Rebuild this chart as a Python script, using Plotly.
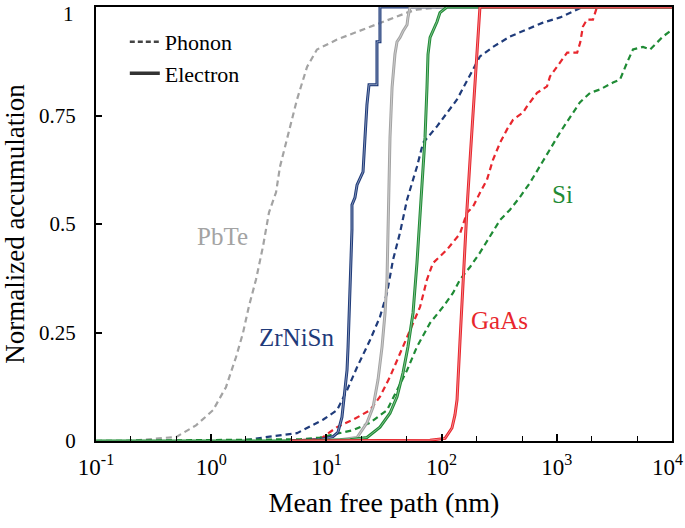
import plotly.graph_objects as go

# ---- data (log10 of mean free path in nm, normalized accumulation) ----
pbte_ph_lx = [-1.0, -0.705, -0.418, -0.306, -0.132, 0.016, 0.128, 0.215, 0.276, 0.328, 0.389, 0.450, 0.502,
              0.563, 0.597, 0.745, 0.832, 0.918, 1.092, 1.318, 1.465, 1.70, 1.786, 2.01, 4.0]
pbte_ph_y = [0.0, 0.0, 0.007, 0.009, 0.036, 0.071, 0.124, 0.193, 0.249, 0.311, 0.372, 0.449, 0.527,
             0.573, 0.632, 0.787, 0.862, 0.902, 0.925, 0.948, 0.964, 0.987, 0.994, 1.0, 1.0]

zr_ph_lx = [-1.0, 0.25, 0.45, 0.745, 0.97, 1.092, 1.179, 1.266, 1.378, 1.465, 1.526, 1.578, 1.639, 1.70,
            1.786, 1.839, 1.96, 2.134, 2.333, 2.446, 2.594, 2.741, 2.88, 3.028, 3.14, 3.227, 4.0]
zr_ph_y = [0.0, 0.0, 0.008, 0.018, 0.049, 0.071, 0.117, 0.17, 0.232, 0.286, 0.341, 0.417, 0.48, 0.556,
           0.632, 0.687, 0.725, 0.787, 0.886, 0.908, 0.932, 0.948, 0.964, 0.976, 0.989, 1.0, 1.0]

zr_el_lx = [0.684, 0.944, 1.057, 1.10, 1.135, 1.161, 1.179, 1.188, 1.205, 1.222, 1.222, 1.248, 1.266, 1.292,
            1.318, 1.335, 1.352, 1.37, 1.439, 1.439, 1.465, 1.465, 4.0]
zr_el_y = [0.0, 0.003, 0.01, 0.02, 0.055, 0.117, 0.163, 0.217, 0.333, 0.487, 0.544, 0.561, 0.59, 0.607,
           0.62, 0.699, 0.775, 0.821, 0.821, 0.92, 0.92, 1.0, 1.0]

pbte_el_lx = [0.771, 1.118, 1.266, 1.352, 1.405, 1.448, 1.483, 1.509, 1.526, 1.535, 1.535, 1.552, 1.57,
              1.595, 1.613, 1.639, 1.665, 1.70, 1.708, 1.726, 4.0]
pbte_el_y = [0.0, 0.003, 0.008, 0.042, 0.078, 0.141, 0.217, 0.295, 0.372, 0.487, 0.544, 0.699, 0.814,
             0.891, 0.92, 0.93, 0.944, 0.959, 0.976, 1.0, 1.0]

si_el_lx = [-1.0, 0.771, 1.205, 1.352, 1.465, 1.552, 1.613, 1.665, 1.708, 1.752, 1.786, 1.804, 1.83, 1.856,
            1.873, 1.882, 1.90, 1.925, 1.96, 1.986, 2.047, 4.0]
si_el_y = [0.0, 0.0, 0.003, 0.008, 0.032, 0.064, 0.102, 0.157, 0.217, 0.295, 0.41, 0.478, 0.583, 0.699,
           0.814, 0.891, 0.93, 0.944, 0.966, 0.987, 1.0, 1.0]

gaas_el_lx = [0.684, 1.899, 2.03, 2.09, 2.116, 2.134, 2.16, 2.186, 2.22, 2.247, 2.29, 2.333, 4.0]
gaas_el_y = [0.0, 0.002, 0.006, 0.03, 0.06, 0.095, 0.232, 0.372, 0.533, 0.648, 0.833, 1.0, 1.0]

gaas_ph_lx = [0.597, 0.944, 1.092, 1.231, 1.378, 1.465, 1.552, 1.639, 1.726, 1.813, 1.873, 1.925, 2.047,
              2.16, 2.22, 2.273, 2.333, 2.394, 2.446, 2.507, 2.568, 2.62, 2.707, 2.741, 2.828, 2.915,
              2.941, 3.002, 3.09, 3.177, 3.203, 3.227, 3.262, 3.314, 3.349]
gaas_ph_y = [0.0, 0.004, 0.032, 0.049, 0.071, 0.102, 0.148, 0.203, 0.256, 0.309, 0.372, 0.41, 0.441,
             0.478, 0.526, 0.54, 0.572, 0.602, 0.648, 0.687, 0.718, 0.74, 0.757, 0.771, 0.802, 0.817,
             0.84, 0.862, 0.895, 0.895, 0.918, 0.955, 0.971, 0.971, 1.0]

si_ph_lx = [-1.0, 0.771, 0.944, 1.231, 1.378, 1.526, 1.613, 1.70, 1.786, 1.90, 2.012, 2.099, 2.16, 2.247,
            2.333, 2.42, 2.507, 2.594, 2.68, 2.767, 2.854, 2.941, 3.028, 3.115, 3.20, 3.288, 3.375,
            3.488, 3.549, 3.61, 3.661, 3.748, 3.809, 3.87, 3.922, 3.983, 4.0]
si_ph_y = [0.0, 0.004, 0.008, 0.025, 0.042, 0.071, 0.117, 0.163, 0.217, 0.272, 0.309, 0.341, 0.372, 0.401,
           0.434, 0.47, 0.509, 0.533, 0.562, 0.595, 0.632, 0.672, 0.711, 0.747, 0.78, 0.802, 0.81,
           0.826, 0.833, 0.872, 0.902, 0.908, 0.902, 0.918, 0.932, 0.944, 0.946]

x_tick_vals = [0.1, 1, 10, 100, 1000]
x_tick_text = ["10<sup>-1</sup>", "10<sup>0</sup>", "10<sup>1</sup>", "10<sup>2</sup>", "10<sup>3</sup>"]
x_edge_tick_text = "10<sup>4</sup>"
y_tick_vals = [0, 0.25, 0.5, 0.75]
y_tick_text = ["0", "0.25", "0.5", "0.75"]
y_edge_tick_text = "1"

material_labels = ["PbTe", "ZrNiSn", "GaAs", "Si"]
label_log_mfp = [0.102, 0.745, 2.5, 3.05]   # log10(nm), annotations on log axes use log units
label_acc = [0.471, 0.238, 0.277, 0.567]

GRAY = "#a3a3a3"
NAVY = "#1f3b7a"
GREEN = "#1f8b35"
RED = "#e8262d"
label_colors = [GRAY, NAVY, RED, GREEN]

FONT = "Liberation Serif"


def tx(lx):
    return [10 ** v for v in lx]


fig = go.Figure()
DASH = "6px,4px"

phonons = [(pbte_ph_lx, pbte_ph_y, GRAY), (zr_ph_lx, zr_ph_y, NAVY),
           (gaas_ph_lx, gaas_ph_y, RED), (si_ph_lx, si_ph_y, GREEN)]
electrons = [(zr_el_lx, zr_el_y, NAVY), (pbte_el_lx, pbte_el_y, GRAY),
             (si_el_lx, si_el_y, GREEN), (gaas_el_lx, gaas_el_y, RED)]

for lx, y, c in phonons:
    fig.add_trace(go.Scatter(x=tx(lx), y=y, mode="lines", showlegend=False,
                             line=dict(color=c, width=2.2, dash=DASH)))
for lx, y, c in electrons:
    fig.add_trace(go.Scatter(x=tx(lx), y=y, mode="lines", showlegend=False,
                             line=dict(color=c, width=3.0)))
    fig.add_trace(go.Scatter(x=tx(lx), y=y, mode="lines", showlegend=False,
                             line=dict(color="rgba(255,255,255,0.55)", width=0.8)))

# legend entries
fig.add_trace(go.Scatter(x=[None], y=[None], mode="lines", name="Phonon",
                         line=dict(color="#444444", width=2.4, dash="5px,3px")))
fig.add_trace(go.Scatter(x=[None], y=[None], mode="lines", name="Electron",
                         line=dict(color="#333333", width=3.4)))

for text, xv, yv, c in zip(material_labels, label_log_mfp, label_acc, label_colors):
    fig.add_annotation(x=xv, y=yv, xref="x", yref="y", text=text, showarrow=False,
                       font=dict(family=FONT, size=25, color=c))

# tick labels at the very edges of the frame (kept inside the page)
fig.add_annotation(x=1.0, y=0, xref="x domain", yref="paper", xanchor="right", yanchor="top",
                   xshift=13, yshift=-8, text=x_edge_tick_text, showarrow=False,
                   font=dict(family=FONT, size=23, color="black"))
fig.add_annotation(x=0, y=1.0, xref="paper", yref="y domain", xanchor="right", yanchor="top",
                   xshift=-20, yshift=7, text=y_edge_tick_text, showarrow=False,
                   font=dict(family=FONT, size=21, color="black"))

fig.update_layout(
    width=685, height=528,
    margin=dict(l=96, r=13, t=7, b=87),
    paper_bgcolor="white", plot_bgcolor="white",
    font=dict(family=FONT, size=21, color="black"),
    legend=dict(x=0.05, y=0.968, xanchor="left", yanchor="top", bgcolor="rgba(0,0,0,0)",
                font=dict(family=FONT, size=22), tracegroupgap=0),
    xaxis=dict(type="log", range=[-1, 4], showgrid=False, zeroline=False, automargin=False,
               showline=True, linecolor="black", linewidth=2, mirror=True,
               tickvals=x_tick_vals, ticktext=x_tick_text, ticks="inside", ticklen=7,
               tickwidth=1.5, tickcolor="black", ticklabelstandoff=4,
               minor=dict(ticks="inside", ticklen=5, tickwidth=1.2, tickcolor="black", showgrid=False),
               tickfont=dict(family=FONT, size=23),
               title=dict(text="Mean free path (nm)", font=dict(family=FONT, size=28), standoff=14)),
    yaxis=dict(range=[0, 1], showgrid=False, zeroline=False, automargin=False,
               showline=True, linecolor="black", linewidth=2, mirror=True,
               tickvals=y_tick_vals, ticktext=y_tick_text, ticks="inside", ticklen=6,
               tickwidth=1.5, tickcolor="black", ticklabelstandoff=14,
               tickfont=dict(family=FONT, size=21),
               title=dict(text="Normalized accumulation", font=dict(family=FONT, size=27), standoff=12)),
)

fig.write_html("out.html", config={"displayModeBar": False})
with open("out.html", "r", encoding="utf-8") as fh:
    html = fh.read()
html = html.replace("<head>", "<head><style>html,body{margin:0;padding:0;}</style>", 1)
with open("out.html", "w", encoding="utf-8") as fh:
    fh.write(html)
